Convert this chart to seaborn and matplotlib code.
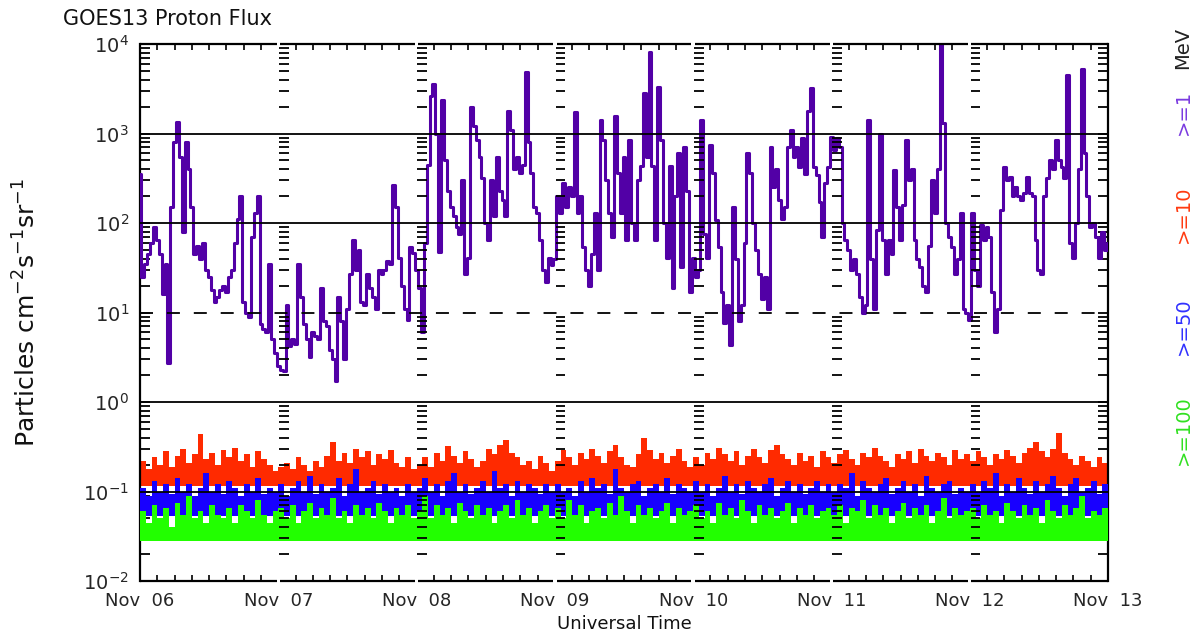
import numpy as np
import pandas as pd
import seaborn as sns
import matplotlib.pyplot as plt
from matplotlib.ticker import MultipleLocator, LogLocator, NullFormatter

# >=1 MeV channel, 30 minute samples from Nov 06 00UT to Nov 13 00UT
p1_day1 = [350, 25, 35, 45, 60, 90, 65, 45, 16, 35, 2.7, 150, 800, 1350, 550, 80, 800, 400, 150, 45, 55, 40, 60, 30,
           25, 18, 13, 15, 18, 20, 17, 25, 30, 60, 110, 200, 13, 10, 9, 70, 130, 200, 7.5, 6.5, 6, 35, 5, 3.5]
p1_day2 = [2.5, 2.3, 2.2, 12, 4.2, 5, 4.5, 35, 15, 7.5, 5, 3.2, 6, 5.5, 5, 19, 8, 7, 3.8, 3, 1.7, 15, 8, 3,
           11, 27, 64, 30, 50, 13, 12, 27, 19, 15, 11, 30, 27, 30, 38, 35, 265, 150, 41, 20, 11, 8.3, 54, 46]
p1_day3 = [30, 19, 6, 60, 450, 2600, 3600, 1000, 48, 2350, 500, 230, 150, 120, 90, 76, 300, 27, 41, 2000, 1200, 840, 550, 320,
           100, 64, 300, 120, 550, 230, 180, 120, 1800, 1100, 400, 550, 360, 450, 4900, 800, 360, 150, 130, 64, 30, 22, 41, 34]
p1_day4 = [40, 200, 130, 280, 150, 250, 200, 1740, 130, 200, 54, 30, 20, 45, 130, 30, 1400, 840, 300, 130, 70, 1550, 360, 130,
           550, 64, 850, 100, 64, 300, 430, 2800, 550, 8100, 430, 64, 3300, 840, 100, 41, 430, 19, 200, 600, 32, 710, 230, 17]
p1_day5 = [41, 25, 30, 1400, 76, 41, 740, 360, 107, 54, 17, 7.6, 12, 4.3, 150, 40, 8, 12, 60, 600, 360, 100, 50, 27,
           14, 25, 11, 700, 250, 400, 180, 110, 150, 700, 1100, 550, 700, 420, 900, 350, 1800, 3200, 420, 340, 170, 70, 280, 420]
p1_day6 = [920, 650, 900, 700, 100, 64, 50, 30, 40, 27, 15, 10, 12, 1400, 40, 11, 84, 1000, 64, 27, 64, 45, 390, 150,
           64, 160, 840, 300, 400, 64, 40, 32, 20, 17, 55, 300, 130, 400, 12000, 1300, 100, 70, 54, 27, 40, 130, 11, 10]
p1_day7 = [8.3, 130, 30, 20, 96, 64, 90, 70, 17, 6, 11, 140, 420, 300, 330, 200, 250, 200, 180, 215, 330, 215, 200, 64,
           30, 27, 200, 320, 500, 400, 840, 500, 420, 320, 4500, 60, 41, 100, 400, 5300, 600, 200, 90, 100, 70, 41, 80, 50, 60]
p1_flux = p1_day1 + p1_day2 + p1_day3 + p1_day4 + p1_day5 + p1_day6 + p1_day7

# hourly upper envelope of the noisy >=10, >=50, >=100 MeV channels
p10_top = [0.22, 0.18, 0.24, 0.20, 0.28, 0.19, 0.25, 0.30, 0.21, 0.26, 0.44, 0.23, 0.27, 0.20, 0.29, 0.24, 0.31, 0.22, 0.26, 0.19, 0.28, 0.23, 0.20, 0.17,
           0.19, 0.21, 0.18, 0.24, 0.20, 0.17, 0.22, 0.19, 0.25, 0.36, 0.22, 0.27, 0.21, 0.30, 0.24, 0.28, 0.20, 0.26, 0.23, 0.29, 0.21, 0.19, 0.24, 0.18,
           0.20, 0.24, 0.19, 0.27, 0.22, 0.32, 0.25, 0.21, 0.28, 0.23, 0.19, 0.22, 0.30, 0.26, 0.33, 0.38, 0.27, 0.24, 0.20, 0.22, 0.18, 0.25, 0.21, 0.17,
           0.22, 0.29, 0.24, 0.20, 0.27, 0.23, 0.30, 0.25, 0.21, 0.28, 0.33, 0.24, 0.20, 0.19, 0.26, 0.40, 0.29, 0.23, 0.27, 0.21, 0.25, 0.30, 0.22, 0.19,
           0.24, 0.20, 0.27, 0.23, 0.31, 0.26, 0.22, 0.28, 0.20, 0.25, 0.30, 0.24, 0.21, 0.29, 0.33, 0.26, 0.23, 0.20, 0.27, 0.22, 0.25, 0.19, 0.28, 0.24,
           0.21, 0.26, 0.29, 0.23, 0.20, 0.27, 0.24, 0.31, 0.25, 0.22, 0.19, 0.26, 0.23, 0.28, 0.21, 0.30, 0.25, 0.22, 0.27, 0.24, 0.20, 0.29, 0.23, 0.26,
           0.22, 0.28, 0.24, 0.20, 0.26, 0.23, 0.29, 0.25, 0.21, 0.27, 0.31, 0.36, 0.28, 0.24, 0.30, 0.45, 0.27, 0.23, 0.20, 0.25, 0.22, 0.19, 0.24, 0.21]
p50_top = [0.11, 0.09, 0.13, 0.10, 0.12, 0.095, 0.14, 0.10, 0.12, 0.09, 0.11, 0.16, 0.10, 0.12, 0.095, 0.13, 0.11, 0.09, 0.12, 0.10, 0.14, 0.095, 0.11, 0.10,
           0.12, 0.09, 0.11, 0.13, 0.10, 0.15, 0.095, 0.12, 0.10, 0.11, 0.14, 0.09, 0.12, 0.18, 0.10, 0.11, 0.13, 0.095, 0.12, 0.10, 0.11, 0.09, 0.12, 0.10,
           0.11, 0.14, 0.10, 0.12, 0.09, 0.13, 0.16, 0.10, 0.12, 0.095, 0.11, 0.13, 0.10, 0.17, 0.11, 0.12, 0.09, 0.13, 0.10, 0.12, 0.11, 0.095, 0.12, 0.10,
           0.12, 0.10, 0.11, 0.09, 0.13, 0.10, 0.14, 0.11, 0.12, 0.095, 0.18, 0.11, 0.10, 0.12, 0.13, 0.09, 0.11, 0.12, 0.10, 0.14, 0.095, 0.12, 0.11, 0.10,
           0.13, 0.10, 0.12, 0.09, 0.11, 0.15, 0.10, 0.12, 0.095, 0.13, 0.11, 0.10, 0.12, 0.14, 0.09, 0.11, 0.13, 0.10, 0.12, 0.095, 0.11, 0.13, 0.10, 0.12,
           0.10, 0.12, 0.11, 0.16, 0.09, 0.13, 0.11, 0.10, 0.12, 0.14, 0.095, 0.11, 0.13, 0.10, 0.12, 0.09, 0.15, 0.11, 0.10, 0.12, 0.13, 0.095, 0.11, 0.10,
           0.12, 0.10, 0.13, 0.11, 0.16, 0.09, 0.12, 0.10, 0.14, 0.11, 0.095, 0.13, 0.10, 0.12, 0.15, 0.11, 0.09, 0.12, 0.14, 0.10, 0.11, 0.13, 0.095, 0.12]
p100_top = [0.06, 0.045, 0.07, 0.05, 0.065, 0.04, 0.075, 0.055, 0.09, 0.05, 0.06, 0.045, 0.07, 0.055, 0.05, 0.065, 0.045, 0.07, 0.06, 0.05, 0.08, 0.055, 0.045, 0.06,
            0.065, 0.05, 0.07, 0.045, 0.06, 0.075, 0.05, 0.065, 0.055, 0.085, 0.05, 0.06, 0.045, 0.07, 0.055, 0.065, 0.05, 0.075, 0.06, 0.045, 0.065, 0.055, 0.07, 0.05,
            0.06, 0.09, 0.05, 0.07, 0.055, 0.065, 0.045, 0.075, 0.06, 0.05, 0.07, 0.055, 0.065, 0.045, 0.06, 0.07, 0.05, 0.08, 0.055, 0.065, 0.045, 0.06, 0.07, 0.05,
            0.065, 0.05, 0.08, 0.055, 0.07, 0.045, 0.06, 0.065, 0.05, 0.075, 0.055, 0.09, 0.06, 0.045, 0.07, 0.055, 0.065, 0.05, 0.06, 0.075, 0.045, 0.065, 0.055, 0.06,
            0.07, 0.05, 0.06, 0.045, 0.075, 0.055, 0.065, 0.05, 0.08, 0.06, 0.045, 0.07, 0.055, 0.065, 0.05, 0.06, 0.075, 0.045, 0.065, 0.055, 0.07, 0.05, 0.06, 0.065,
            0.055, 0.07, 0.045, 0.065, 0.06, 0.08, 0.05, 0.07, 0.055, 0.065, 0.045, 0.06, 0.075, 0.05, 0.065, 0.055, 0.07, 0.045, 0.06, 0.085, 0.05, 0.065, 0.055, 0.06,
            0.065, 0.05, 0.07, 0.055, 0.06, 0.045, 0.075, 0.06, 0.05, 0.07, 0.055, 0.065, 0.045, 0.08, 0.06, 0.05, 0.07, 0.055, 0.065, 0.09, 0.05, 0.06, 0.055, 0.065]
# background floor of each noisy channel
p10_floor = 0.115
p50_floor = 0.053
p100_floor = 0.028

day_labels = ["Nov  06", "Nov  07", "Nov  08", "Nov  09", "Nov  10", "Nov  11", "Nov  12", "Nov  13"]
decades = [1e-2, 1e-1, 1e0, 1e1, 1e2, 1e3, 1e4]
decade_labels = [r"$10^{-2}$", r"$10^{-1}$", r"$10^{0}$", r"$10^{1}$", r"$10^{2}$", r"$10^{3}$", r"$10^{4}$"]

purple = "#5200a6"
red = "#ff2a00"
blue = "#1800ff"
green = "#22ff00"

sns.set_style("white")
plt.rcParams['font.family'] = ['DejaVu Sans']

fig = plt.figure(figsize=(12.01, 6.35), dpi=100)
ax = fig.add_axes([0.1166, 0.0850, 0.8060, 0.8457])

p1_df = pd.DataFrame({"hours": np.arange(len(p1_flux)) * 0.5, "flux": p1_flux})
hourly = pd.DataFrame({"hours": np.arange(len(p10_top) + 1),
                       "p10": p10_top + p10_top[-1:],
                       "p50": p50_top + p50_top[-1:],
                       "p100": p100_top + p100_top[-1:]})

ax.fill_between(hourly["hours"], p10_floor, hourly["p10"], step="post", color=red, lw=0, zorder=2)
ax.fill_between(hourly["hours"], p50_floor, hourly["p50"], step="post", color=blue, lw=0, zorder=3)
ax.fill_between(hourly["hours"], p100_floor, hourly["p100"], step="post", color=green, lw=0, zorder=4)

sns.lineplot(data=p1_df, x="hours", y="flux", ax=ax, color=purple, lw=2.2,
             drawstyle="steps-mid", estimator=None, zorder=5)

ax.set_yscale("log")
ax.set_ylim(1e-2, 1e4)
ax.set_xlim(0, 168)

# reference levels
for lvl in [1e-1, 1e0, 1e2, 1e3]:
    ax.axhline(lvl, color="black", lw=1.3, zorder=7)
ax.axhline(1e1, color="black", lw=1.3, dashes=(7.2, 7.7), zorder=7)

# y minor tick columns at each day boundary
minor_vals = [m * 10.0 ** e for e in range(-2, 4) for m in range(2, 10)]
for d in range(1, 7):
    ax.hlines(minor_vals, d * 24 + 0.15, d * 24 + 1.8, color="black", lw=1.3, zorder=8)

ax.set_yticks(decades)
ax.set_yticklabels(decade_labels, fontsize=14)
ax.yaxis.set_minor_locator(LogLocator(base=10, subs=range(2, 10), numticks=20))
ax.yaxis.set_minor_formatter(NullFormatter())
ax.tick_params(axis="y", which="both", direction="in", left=True, right=True,
               length=7, width=1.3, color="black", pad=8)

ax.set_xticks(range(0, 169, 24))
ax.set_xticklabels(day_labels, fontsize=13)
ax.xaxis.set_minor_locator(MultipleLocator(3))
ax.tick_params(axis="x", which="major", length=0, pad=8)
ax.tick_params(axis="x", which="minor", direction="in", top=True, bottom=True,
               length=4, width=1.2, color="black")
ax.set_xlabel("")
ax.set_ylabel("")

# top/bottom axis lines broken at each day
ax.spines["top"].set_visible(False)
ax.spines["bottom"].set_visible(False)
for side in ["left", "right"]:
    ax.spines[side].set_linewidth(1.6)
    ax.spines[side].set_color("black")
for d in range(7):
    x0 = d * 24 + (0.3 if d > 0 else 0)
    x1 = (d + 1) * 24 - (0.3 if d < 6 else 0)
    for yy in [0, 1]:
        ax.plot([x0, x1], [yy, yy], transform=ax.get_xaxis_transform(),
                color="black", lw=1.6, clip_on=False, solid_capstyle="butt", zorder=9)

fig.text(63 / 1201, 1 - 19 / 635, "GOES13 Proton Flux", fontsize=15, ha="left", va="center", color="#111111")
fig.text(27 / 1201, 1 - 313 / 635, r"Particles cm$^{-2}$s$^{-1}$sr$^{-1}$", fontsize=18,
         rotation=90, ha="center", va="center", color="#111111")
fig.text(624 / 1201, 1 - 624 / 635, "Universal Time", fontsize=13, ha="center", va="center", color="#111111")

fig.text(1183 / 1201, 1 - 48 / 635, "MeV", fontsize=14, rotation=90, ha="center", va="center", color="#222222")
fig.text(1183 / 1201, 1 - 112 / 635, ">=1", fontsize=14, rotation=90, ha="center", va="center", color="#7a3ae0")
fig.text(1183 / 1201, 1 - 214 / 635, ">=10", fontsize=14, rotation=90, ha="center", va="center", color="#ff3a10")
fig.text(1183 / 1201, 1 - 326 / 635, ">=50", fontsize=14, rotation=90, ha="center", va="center", color="#3030ff")
fig.text(1183 / 1201, 1 - 430 / 635, ">=100", fontsize=14, rotation=90, ha="center", va="center", color="#30e020")

fig.savefig("out.png", dpi=100)
